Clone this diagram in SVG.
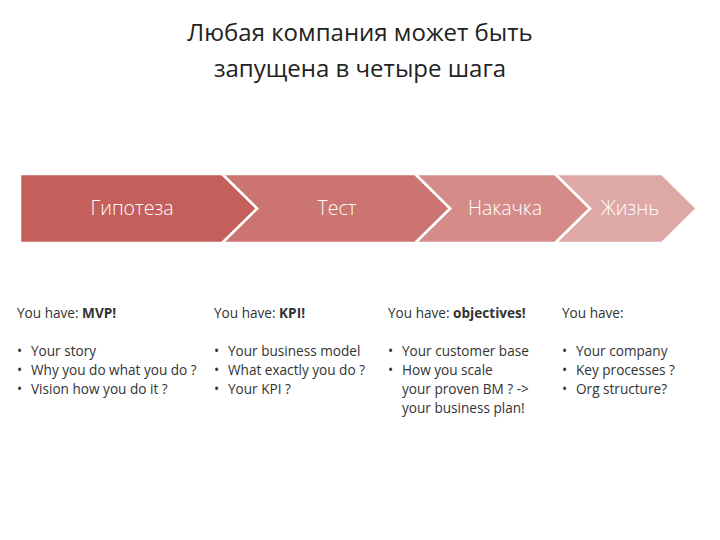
<svg xmlns="http://www.w3.org/2000/svg" width="720" height="540" viewBox="0 0 720 540">
<style>
.t{font-family:"Open Sans","Liberation Sans",sans-serif;fill:#222}
.c{stroke:#fff;stroke-width:2.5}
.lbl{font-family:"Open Sans","Liberation Sans",sans-serif;font-size:19.5px;fill:#fff;text-anchor:middle;font-weight:300}
.b{font-family:"Open Sans","Liberation Sans",sans-serif;font-size:13.6px;fill:#333}
</style>
<rect width="720" height="540" fill="#fff"/>
<text class="t" x="360" y="41" font-size="24" text-anchor="middle">Любая компания может быть</text>
<text class="t" x="360" y="77" font-size="24" text-anchor="middle">запущена в четыре шага</text>
<g id="n4"><path class="c" d="M555 174 H662 L697 208.5 L662 243 H555 L590 208.5 Z" fill="#dea8a6"/><text class="lbl" x="630" y="215">Жизнь</text></g>
<g id="n3"><path class="c" d="M415 174 H555 L590 208.5 L555 243 H415 L450 208.5 Z" fill="#d58c89"/><text class="lbl" x="505" y="215">Накачка</text></g>
<g id="n2"><path class="c" d="M222 174 H415 L450 208.5 L415 243 H222 L257 208.5 Z" fill="#cb7471"/><text class="lbl" x="337" y="215">Тест</text></g>
<g id="n1"><path class="c" d="M20 174 H222 L257 208.5 L222 243 H20 Z" fill="#c45f5c"/><text class="lbl" x="132" y="215">Гипотеза</text></g>
<g id="connectors"/>
<g class="b">
<text x="17" y="318">You have: <tspan font-weight="bold">MVP!</tspan></text>
<text x="17" y="356">•</text><text x="31" y="356">Your story</text>
<text x="17" y="375">•</text><text x="31" y="375">Why you do what you do ?</text>
<text x="17" y="394">•</text><text x="31" y="394">Vision how you do it ?</text>
<text x="214" y="318">You have: <tspan font-weight="bold">KPI!</tspan></text>
<text x="214" y="356">•</text><text x="228" y="356">Your business model</text>
<text x="214" y="375">•</text><text x="228" y="375">What exactly you do ?</text>
<text x="214" y="394">•</text><text x="228" y="394">Your KPI ?</text>
<text x="388" y="318">You have: <tspan font-weight="bold">objectives!</tspan></text>
<text x="388" y="356">•</text><text x="402" y="356">Your customer base</text>
<text x="388" y="375">•</text><text x="402" y="375">How you scale</text>
<text x="402" y="394">your proven BM ? -&gt;</text>
<text x="402" y="413">your business plan!</text>
<text x="562" y="318">You have:</text>
<text x="562" y="356">•</text><text x="576" y="356">Your company</text>
<text x="562" y="375">•</text><text x="576" y="375">Key processes ?</text>
<text x="562" y="394">•</text><text x="576" y="394">Org structure?</text>
</g>
</svg>
